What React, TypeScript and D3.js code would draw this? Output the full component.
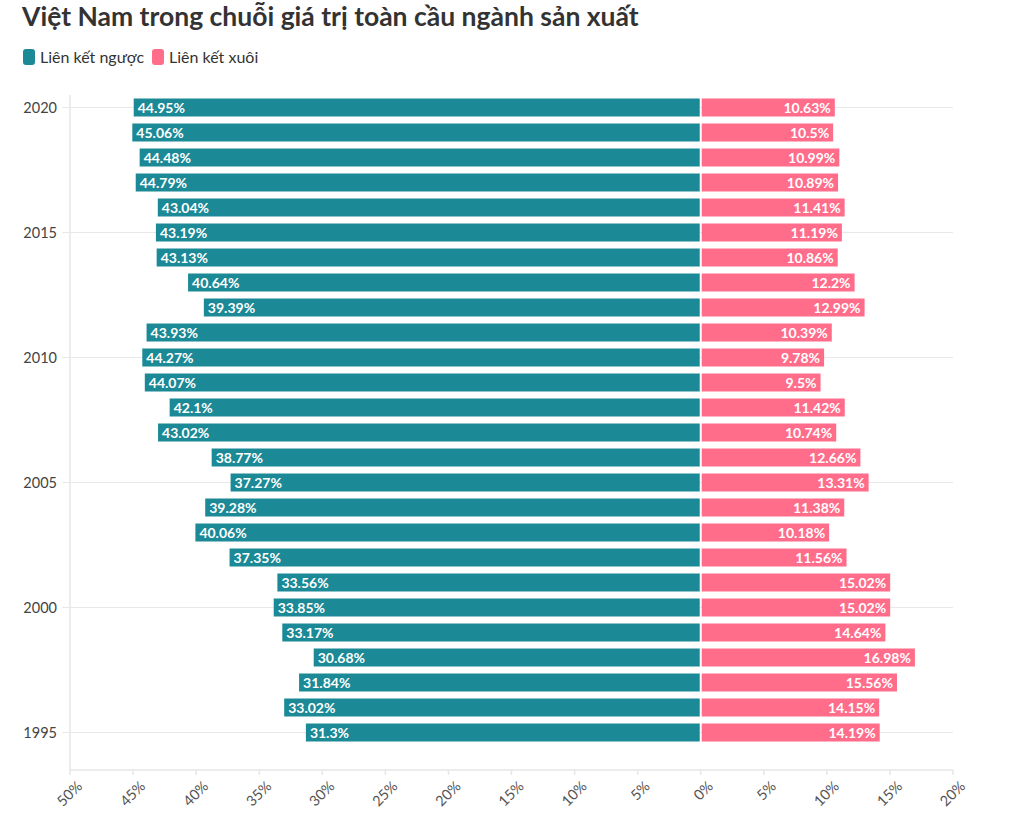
import React from "react";
import * as d3 from "d3";

const years = [2020, 2019, 2018, 2017, 2016, 2015, 2014, 2013, 2012, 2011, 2010, 2009, 2008, 2007, 2006, 2005, 2004, 2003, 2002, 2001, 2000, 1999, 1998, 1997, 1996, 1995];
const backward = [44.95, 45.06, 44.48, 44.79, 43.04, 43.19, 43.13, 40.64, 39.39, 43.93, 44.27, 44.07, 42.1, 43.02, 38.77, 37.27, 39.28, 40.06, 37.35, 33.56, 33.85, 33.17, 30.68, 31.84, 33.02, 31.3];
const forward = [10.63, 10.5, 10.99, 10.89, 11.41, 11.19, 10.86, 12.2, 12.99, 10.39, 9.78, 9.5, 11.42, 10.74, 12.66, 13.31, 11.38, 10.18, 11.56, 15.02, 15.02, 14.64, 16.98, 15.56, 14.15, 14.19];
const yearTicks = [2020, 2015, 2010, 2005, 2000, 1995];
const xTicks = [-50, -45, -40, -35, -30, -25, -20, -15, -10, -5, 0, 5, 10, 15, 20];
const seriesNames = ["Liên kết ngược", "Liên kết xuôi"];
const title = "Việt Nam trong chuỗi giá trị toàn cầu ngành sản xuất";

const TEAL = "#1b8996";
const PINK = "#ff6d8b";
const FONT = "Lato, 'Open Sans', sans-serif";

export default function App() {
  const W = 1024, H = 820;
  const left = 70, right = 953, top = 95, bottom = 770;
  const x = d3.scaleLinear().domain([-50, 20]).range([left, right]);
  const y = d3.scaleBand<number>().domain(years).range([top, top + 25 * years.length]).paddingInner(0.28).paddingOuter(0.14);
  const x0 = x(0);
  const bh = y.bandwidth();
  return (
    <svg width={W} height={H} style={{ position: "absolute", left: 0, top: 0, background: "#fff" }} fontFamily={FONT}>
      <text x={22} y={26} fontSize={26.5} fontWeight={700} fill="#333">{title}</text>
      <g>
        <rect x={23} y={49} width={12} height={16} rx={3} fill={TEAL} />
        <text x={40} y={62.5} fontSize={16} fill="#333">{seriesNames[0]}</text>
        <rect x={152} y={49} width={12} height={16} rx={3} fill={PINK} />
        <text x={169} y={62.5} fontSize={16} fill="#333">{seriesNames[1]}</text>
      </g>
      {/* axes */}
      <line x1={left} x2={left} y1={top} y2={bottom} stroke="#e6e6e6" strokeWidth={1.5} />
      <line x1={left} x2={right} y1={bottom} y2={bottom} stroke="#e6e6e6" strokeWidth={1.5} />
      {yearTicks.map((yr) => {
        const cy = (y(yr) as number) + bh / 2;
        return (
          <g key={yr}>
            <line x1={left - 8} x2={right} y1={cy} y2={cy} stroke="#e8e8e8" strokeWidth={1.2} />
            <text x={57} y={cy} dy="0.35em" textAnchor="end" fontSize={14.5} fill="#444">{yr}</text>
          </g>
        );
      })}
      {xTicks.map((t) => {
        const tx = x(t);
        return (
          <g key={t}>
            <line x1={tx} x2={tx} y1={bottom} y2={bottom + 5} stroke="#e6e6e6" strokeWidth={1.5} />
            <text transform={`translate(${tx + 6},${bottom + 10}) rotate(-45)`} textAnchor="end" dy="0.7em" fontSize={14.5} fill="#555">{Math.abs(t)}%</text>
          </g>
        );
      })}
      {years.map((yr, i) => {
        const by = y(yr) as number;
        const xl = x(-backward[i]);
        const xr = x(forward[i]);
        return (
          <g key={yr}>
            <rect x={xl} y={by} width={x0 - 1 - xl} height={bh} fill={TEAL} />
            <rect x={x0 + 1} y={by} width={xr - x0 - 1} height={bh} fill={PINK} />
            <text x={xl + 4} y={by + bh / 2} dy="0.36em" fontSize={14} fontWeight={700} fill="#fff">{backward[i]}%</text>
            <text x={xr - 4} y={by + bh / 2} dy="0.36em" textAnchor="end" fontSize={14} fontWeight={700} fill="#fff">{forward[i]}%</text>
          </g>
        );
      })}
    </svg>
  );
}
